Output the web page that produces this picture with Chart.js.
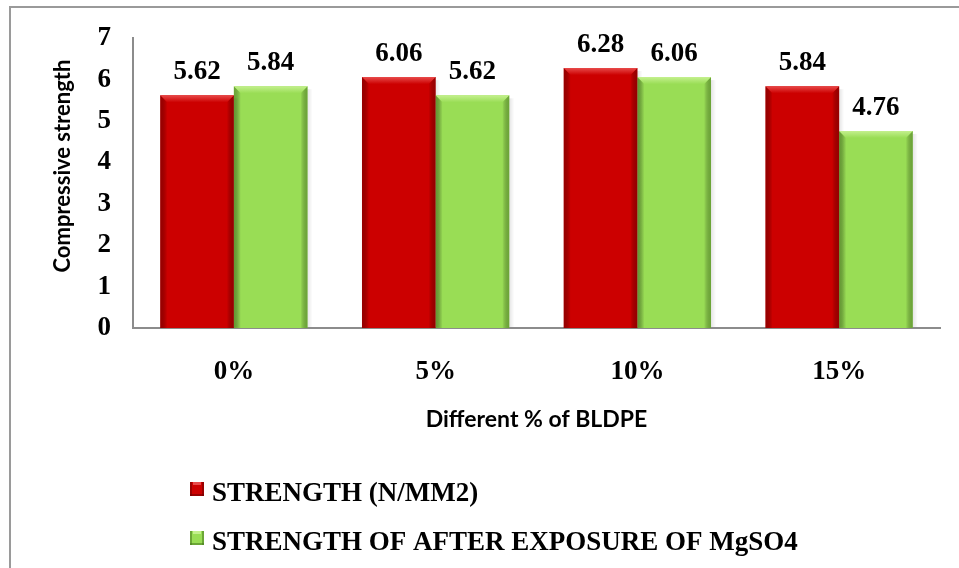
<!DOCTYPE html>
<html>
<head>
<meta charset="utf-8">
<script src="https://cdn.jsdelivr.net/npm/chart.js@4.4.1/dist/chart.umd.min.js"></script>
<style>
  html, body { margin: 0; padding: 0; background: #fff; }
  #wrap { width: 959px; height: 568px; position: relative; }
</style>
</head>
<body>
<div id="wrap"><canvas id="c" width="959" height="568"></canvas></div>
<script>
// Categories and series
const categories = ['0%', '5%', '10%', '15%'];
const strength = [5.62, 6.06, 6.28, 5.84];
const strengthMgSO4 = [5.84, 5.62, 6.06, 4.76];
const seriesNames = ['STRENGTH (N/MM2)', 'STRENGTH OF AFTER EXPOSURE OF MgSO4'];
const yTicks = [0, 1, 2, 3, 4, 5, 6, 7];

const SERIF = '"Liberation Serif", "Times New Roman", serif';
const SANS = 'Lato, "Open Sans", sans-serif';

// Bevelled look for each bar: darker sides, lighter top lip
const bevel = {
  id: 'bevel',
  afterDatasetsDraw(chart) {
    const ctx = chart.ctx;
    chart.data.datasets.forEach((ds, di) => {
      const meta = chart.getDatasetMeta(di);
      meta.data.forEach(bar => {
        const w = bar.width, x0 = bar.x - w / 2, x1 = bar.x + w / 2;
        const top = bar.y, bottom = bar.base, e = 7;
        ctx.save();
        // left edge
        let g = ctx.createLinearGradient(x0, 0, x0 + e, 0);
        g.addColorStop(0, ds.edgeDark); g.addColorStop(1, 'rgba(0,0,0,0)');
        ctx.fillStyle = g;
        ctx.beginPath();
        ctx.moveTo(x0, top); ctx.lineTo(x0 + e, top + e); ctx.lineTo(x0 + e, bottom); ctx.lineTo(x0, bottom); ctx.closePath();
        ctx.fill();
        // right edge
        g = ctx.createLinearGradient(x1, 0, x1 - e, 0);
        g.addColorStop(0, ds.edgeDark); g.addColorStop(1, 'rgba(0,0,0,0)');
        ctx.fillStyle = g;
        ctx.beginPath();
        ctx.moveTo(x1, top); ctx.lineTo(x1 - e, top + e); ctx.lineTo(x1 - e, bottom); ctx.lineTo(x1, bottom); ctx.closePath();
        ctx.fill();
        // top lip
        g = ctx.createLinearGradient(0, top, 0, top + e);
        g.addColorStop(0, ds.edgeLight); g.addColorStop(1, ds.backgroundColor);
        ctx.fillStyle = g;
        ctx.beginPath();
        ctx.moveTo(x0, top); ctx.lineTo(x1, top); ctx.lineTo(x1 - e, top + e); ctx.lineTo(x0 + e, top + e); ctx.closePath();
        ctx.fill();
        // faint shadow on the right
        g = ctx.createLinearGradient(x1, 0, x1 + 5, 0);
        g.addColorStop(0, 'rgba(0,0,0,0.10)'); g.addColorStop(1, 'rgba(0,0,0,0)');
        ctx.fillStyle = g;
        ctx.fillRect(x1, top + 3, 5, bottom - top - 4);
        ctx.restore();
      });
    });
  }
};

// Value labels above bars
const valueLabels = {
  id: 'valueLabels',
  afterDatasetsDraw(chart) {
    const ctx = chart.ctx;
    ctx.save();
    ctx.font = 'bold 27px ' + SERIF;
    ctx.fillStyle = '#000';
    ctx.textAlign = 'center';
    ctx.textBaseline = 'alphabetic';
    chart.data.datasets.forEach((ds, di) => {
      chart.getDatasetMeta(di).data.forEach((bar, i) => {
        ctx.fillText(ds.data[i].toFixed(2), bar.x, bar.y - 16);
      });
    });
    ctx.restore();
  }
};

// Frame, axis titles and the stacked legend
const decor = {
  id: 'decor',
  afterDraw(chart) {
    const ctx = chart.ctx;
    const area = chart.chartArea;
    ctx.save();
    ctx.strokeStyle = '#9a9a9a';
    ctx.lineWidth = 2;
    ctx.beginPath();
    ctx.moveTo(10, 568); ctx.lineTo(10, 7); ctx.lineTo(959, 7);
    ctx.stroke();

    ctx.fillStyle = '#000';
    ctx.textAlign = 'center';
    ctx.textBaseline = 'middle';
    ctx.font = 'bold 23px ' + SANS;
    ctx.fillText('Different % of BLDPE', (area.left + area.right) / 2, 420);
    ctx.save();
    ctx.translate(63, 166);
    ctx.rotate(-Math.PI / 2);
    ctx.font = 'bold 22px ' + SANS;
    ctx.fillText('Compressive strength', 0, 0);
    ctx.restore();

    // legend
    ctx.font = 'bold 27px ' + SERIF;
    ctx.textAlign = 'left';
    ctx.textBaseline = 'alphabetic';
    chart.data.datasets.forEach((ds, i) => {
      const yMid = 489 + i * 49;
      const bx = 190, by = yMid - 7, s = 14;
      ctx.fillStyle = ds.backgroundColor;
      ctx.fillRect(bx, by, s, s);
      ctx.fillStyle = ds.edgeLight;
      ctx.fillRect(bx + 3, by, s - 6, 3);
      ctx.fillStyle = ds.edgeDark;
      ctx.fillRect(bx, by, 2, s);
      ctx.fillRect(bx + s - 2, by, 2, s);
      ctx.fillRect(bx, by + s - 2, s, 2);
      ctx.fillStyle = '#000';
      ctx.fillText(ds.label, 212, yMid + 12);
    });
    ctx.restore();
  }
};

new Chart(document.getElementById('c'), {
  type: 'bar',
  data: {
    labels: categories,
    datasets: [
      { label: seriesNames[0], data: strength, backgroundColor: '#cc0000',
        edgeDark: 'rgba(110,0,0,0.55)', edgeLight: '#e84a4a' },
      { label: seriesNames[1], data: strengthMgSO4, backgroundColor: '#99dd55',
        edgeDark: 'rgba(70,120,30,0.55)', edgeLight: '#c4f08e' }
    ]
  },
  options: {
    responsive: false,
    animation: false,
    devicePixelRatio: 1,
    layout: { padding: { top: 35, right: 19, left: 0, bottom: 0 } },
    datasets: { bar: { categoryPercentage: 0.73, barPercentage: 1.0, borderWidth: 0 } },
    plugins: { legend: { display: false }, tooltip: { enabled: false } },
    scales: {
      x: {
        grid: { display: false, drawTicks: false },
        border: { color: '#8c8c8c', width: 2 },
        ticks: { color: '#000', font: { family: SERIF, size: 27, weight: 'bold' }, padding: 28 },
        afterFit(s) { s.height = 240; }
      },
      y: {
        min: 0, max: 7,
        afterBuildTicks(s) { s.ticks = yTicks.map(v => ({ value: v })); },
        grid: { display: false, drawTicks: false },
        border: { color: '#8c8c8c', width: 2 },
        ticks: { color: '#000', font: { family: SERIF, size: 27, weight: 'bold' }, padding: 22 },
        afterFit(s) { s.width = 133; }
      }
    }
  },
  plugins: [bevel, valueLabels, decor]
});
</script>
</body>
</html>
